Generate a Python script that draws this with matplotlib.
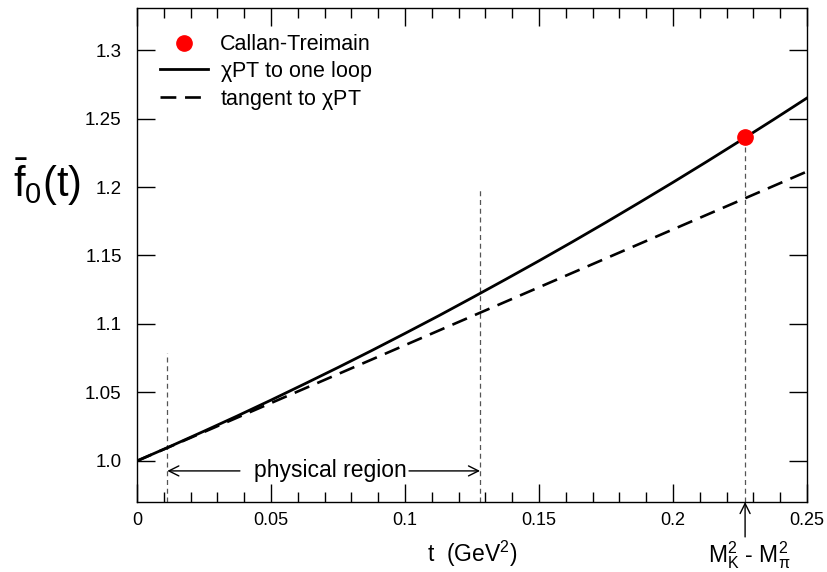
import matplotlib
matplotlib.use('Agg')
import matplotlib.pyplot as plt
from matplotlib.ticker import MultipleLocator

plt.rcParams['font.family'] = ['Liberation Sans', 'DejaVu Sans']
plt.rcParams['mathtext.fontset'] = 'custom'
plt.rcParams['mathtext.rm'] = 'Liberation Sans'
plt.rcParams['mathtext.it'] = 'Liberation Sans'
plt.rcParams['mathtext.sf'] = 'Liberation Sans'

# scalar form factor, one-loop chiPT
t_loop = [0.0, 0.0125, 0.025, 0.0375, 0.05, 0.0625, 0.075, 0.0875, 0.1, 0.1125, 0.125,
          0.1375, 0.15, 0.1625, 0.175, 0.1875, 0.2, 0.2125, 0.225, 0.2375, 0.25]
f_loop = [1.0, 1.0107, 1.0217, 1.0329, 1.0444, 1.0562, 1.0682, 1.0805, 1.0931, 1.1059, 1.1191,
          1.1325, 1.1461, 1.1600, 1.1742, 1.1887, 1.2034, 1.2184, 1.2337, 1.2492, 1.2650]

# tangent at t = 0
t_tan = [0.0, 0.25]
f_tan = [1.0, 1.2113]

# Callan-Treiman point
t_ct = 0.2269
f_ct = 1.2365

# physical region limits and guide line heights
t_phys = [0.0113, 0.128]
guide_top = [1.079, 1.2]

xticks = [0, 0.05, 0.1, 0.15, 0.2, 0.25]
xticklabels = ['0', '0.05', '0.1', '0.15', '0.2', '0.25']
yticks = [1.0, 1.05, 1.1, 1.15, 1.2, 1.25, 1.3]
yticklabels = ['1.0', '1.05', '1.1', '1.15', '1.2', '1.25', '1.3']

ymin, ymax = 0.97, 1.3307

fig = plt.figure(figsize=(8.28, 5.72), dpi=100)
ax = fig.add_axes([137/828, 1 - 502/572, 670/828, 494/572])

# guide lines
for tp, top in zip(t_phys, guide_top):
    ax.plot([tp, tp], [ymin, top], color='#555555', lw=0.9, dashes=(4, 3))
ax.plot([t_ct, t_ct], [ymin, f_ct], color='#555555', lw=0.9, dashes=(4, 3))

ax.plot(t_tan, f_tan, color='black', lw=1.9, dashes=(6, 3.3), label=r'tangent to $\chi$PT')
ax.plot(t_loop, f_loop, color='black', lw=2.0, label=r'$\chi$PT to one loop')
ax.plot([t_ct], [f_ct], 'o', color='#ff0000', ms=11, mec='#ff0000', label='Callan-Treimain',
        zorder=5)

handles, labels = ax.get_legend_handles_labels()
order = [2, 1, 0]
ax.legend([handles[i] for i in order], [labels[i] for i in order],
          loc='upper left', frameon=False, fontsize=15.5, handlelength=2.25,
          handletextpad=0.55, labelspacing=0.17, borderaxespad=0, borderpad=0,
          bbox_to_anchor=(0.034, 0.947), numpoints=1)

# physical region: two arrows either side of the label
y_arr = 0.9927
arrow_kw = dict(arrowstyle='->', lw=1.0, color='black', mutation_scale=18,
                shrinkA=0, shrinkB=0)
ax.annotate('', xy=(t_phys[0], y_arr), xytext=(0.0384, y_arr), arrowprops=arrow_kw)
ax.annotate('', xy=(t_phys[1], y_arr), xytext=(0.1015, y_arr), arrowprops=arrow_kw)
ax.text(0.0722, y_arr, 'physical region', fontsize=16.5, ha='center', va='center')

# kaon-pion mass difference marker
ax.annotate('', xy=(t_ct, ymin), xytext=(t_ct, ymin - 0.0255),
            arrowprops=arrow_kw, annotation_clip=False)
ax.text(t_ct + 0.0017, ymin - 0.0385, r'$\mathrm{M}_\mathrm{K}^2$ - $\mathrm{M}_\pi^2$',
        fontsize=16.5, ha='center', va='center', clip_on=False)

ax.set_xlim(0, 0.25)
ax.set_ylim(ymin, ymax)
ax.set_xticks(xticks)
ax.set_xticklabels(xticklabels)
ax.set_yticks(yticks)
ax.set_yticklabels(yticklabels)
ax.xaxis.set_minor_locator(MultipleLocator(0.01))
ax.tick_params(which='major', direction='in', length=13, width=1, top=True, right=True)
ax.tick_params(axis='x', which='major', pad=7.5, labelsize=13)
ax.tick_params(axis='y', which='major', pad=11, labelsize=13.5)
ax.tick_params(axis='x', which='minor', direction='in', length=7, width=1, top=True)
ax.tick_params(axis='y', which='minor', left=False, right=False)
for s in ax.spines.values():
    s.set_linewidth(1.0)

ax.set_xlabel(r't  (GeV$^2$)', fontsize=16.5)
ax.xaxis.set_label_coords(0.5, -0.075)
ax.set_ylabel(r'$\bar{\mathrm{f}}_\mathrm{0}\mathrm{(t)}$', fontsize=30, rotation=0,
              ha='center', va='center')
ax.yaxis.set_label_coords(-0.134, 0.648)

fig.savefig('out.png', dpi=100)
